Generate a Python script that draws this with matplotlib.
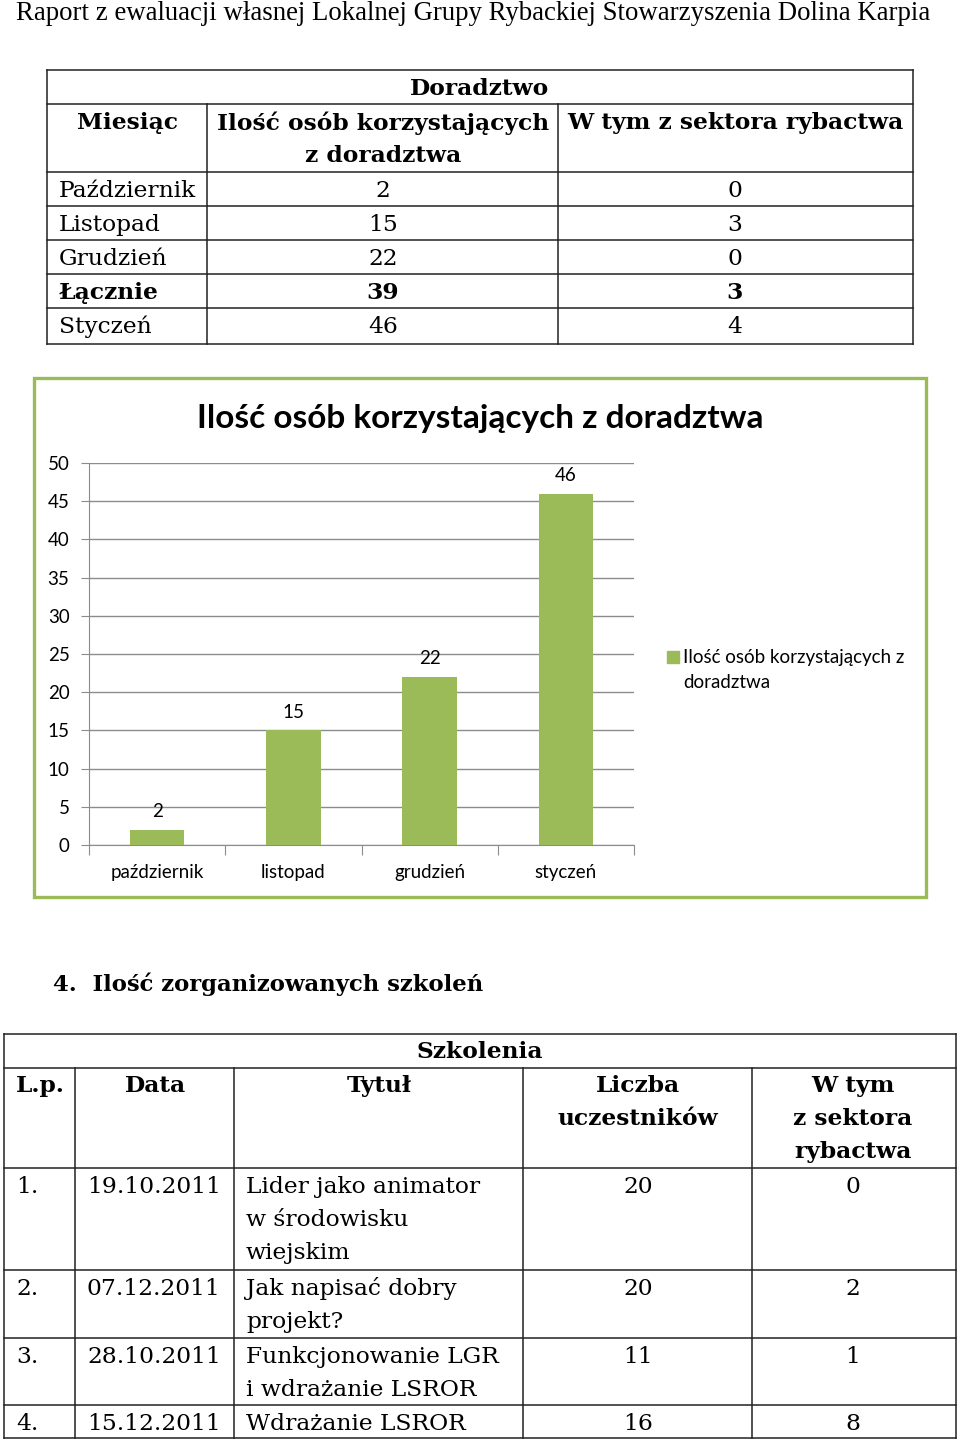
import matplotlib.pyplot as plt
from matplotlib.patches import Rectangle
from matplotlib.lines import Line2D

# --- data ---
page_header = 'Raport z ewaluacji własnej Lokalnej Grupy Rybackiej Stowarzyszenia Dolina Karpia'

advice_months = ['Październik', 'Listopad', 'Grudzień', 'Łącznie', 'Styczeń']
advice_total = [2, 15, 22, 39, 46]
advice_fishery = [0, 3, 0, 3, 4]

chart_title = 'Ilość osób korzystających z doradztwa'
chart_months = ['październik', 'listopad', 'grudzień', 'styczeń']
chart_values = [2, 15, 22, 46]

section_heading = '4.  Ilość zorganizowanych szkoleń'
training_no = ['1.', '2.', '3.', '4.']
training_dates = ['19.10.2011', '07.12.2011', '28.10.2011', '15.12.2011']
training_titles = ['Lider jako animator\nw środowisku\nwiejskim',
                   'Jak napisać dobry\nprojekt?',
                   'Funkcjonowanie LGR\ni wdrażanie LSROR',
                   'Wdrażanie LSROR']
training_people = [20, 20, 11, 16]
training_fishery = [0, 2, 1, 8]

GREEN = '#9BBB59'
SERIF = 'DejaVu Serif'
SANS = 'Lato'
TS = 16.8   # table font size
CS = 13.5   # chart font size

W, H = 960, 1440
fig = plt.figure(figsize=(9.6, 14.4), dpi=100)


def fx(x):
    return x / W


def fy(y):
    return 1 - y / H


def txt(x, y, s, size=TS, bold=False, ha='left', family=SERIF, dy=2):
    # dy nudges text down a little to line up with the page baseline
    fig.text(fx(x), fy(y + dy), s, fontsize=size, fontweight='bold' if bold else 'normal',
             ha=ha, va='center', family=family, color='black')


def line(x0, y0, x1, y1, lw=1.1, color='#222222'):
    fig.add_artist(Line2D([fx(x0), fx(x1)], [fy(y0), fy(y1)], lw=lw, color=color))


# page header
txt(16, 13, page_header, size=19.3, family='Liberation Serif', dy=1)

# --- table 1: Doradztwo ---
cols1 = [47, 207, 558, 913]
rows1 = [70, 104, 172, 206, 240, 274, 308, 344]
for y in rows1:
    line(cols1[0], y, cols1[-1], y)
line(cols1[0], rows1[0], cols1[0], rows1[-1])
line(cols1[-1], rows1[0], cols1[-1], rows1[-1])
for x in cols1[1:-1]:
    line(x, rows1[1], x, rows1[-1])

txt(480, 87, 'Doradztwo', bold=True, ha='center')
txt(127, 121, 'Miesiąc', bold=True, ha='center')
txt(383, 121, 'Ilość osób korzystających', bold=True, ha='center')
txt(383, 154, 'z doradztwa', bold=True, ha='center')
txt(735, 121, 'W tym z sektora rybactwa', bold=True, ha='center')
for i, m in enumerate(advice_months):
    y = 189 + i * 34
    b = m == 'Łącznie'
    txt(59, y, m, bold=b)
    txt(383, y, str(advice_total[i]), bold=b, ha='center')
    txt(735, y, str(advice_fishery[i]), bold=b, ha='center')

# --- chart ---
fig.add_artist(Rectangle((fx(34), fy(897)), fx(926) - fx(34), fy(378) - fy(897),
                         transform=fig.transFigure, fill=False, edgecolor=GREEN, lw=2.4))
fig.text(fx(480), fy(418), chart_title, fontsize=24, fontweight='bold', family=SANS,
         ha='center', va='center')

ax = fig.add_axes([fx(89), fy(845), fx(634) - fx(89), fy(463) - fy(845)])
bars = ax.bar(range(len(chart_values)), chart_values, width=0.4, color=GREEN, zorder=3)
ax.bar_label(bars, padding=7, fontsize=CS, family=SANS)
ax.set_xlim(-0.5, len(chart_values) - 0.5)
ax.set_ylim(0, 50)
ax.set_yticks(range(0, 51, 5))
ax.grid(axis='y', color='#8c8c8c', lw=1.0, zorder=0)
for s in ['top', 'right']:
    ax.spines[s].set_visible(False)
for s in ['left', 'bottom']:
    ax.spines[s].set_color('#8c8c8c')
ax.set_xticks([i - 0.5 for i in range(len(chart_values) + 1)])
ax.set_xticklabels([])
ax.set_xticks(range(len(chart_values)), minor=True)
ax.set_xticklabels(chart_months, minor=True, fontsize=CS, family=SANS)
ax.tick_params(axis='x', which='major', length=7, color='#8c8c8c')
ax.tick_params(axis='x', which='minor', length=0, pad=13.5)
ax.tick_params(axis='y', length=6, color='#8c8c8c', pad=8, labelsize=CS)
for lab in ax.get_yticklabels():
    lab.set_family(SANS)

# legend
fig.add_artist(Rectangle((fx(667), fy(663)), fx(679) - fx(667), fy(651) - fy(663),
                         transform=fig.transFigure, color=GREEN))
txt(683, 656, 'Ilość osób korzystających z', size=CS, family=SANS, dy=1)
txt(683, 681, 'doradztwa', size=CS, family=SANS, dy=1)

# --- section heading ---
txt(53, 982, section_heading, size=16.4, bold=True)

# --- table 2: Szkolenia ---
cols2 = [4, 75, 234, 523, 752, 956]
rows2 = [1034, 1068, 1168, 1270, 1338, 1405, 1438]
for y in rows2:
    line(cols2[0], y, cols2[-1], y)
line(cols2[0], rows2[0], cols2[0], rows2[-1])
line(cols2[-1], rows2[0], cols2[-1], rows2[-1])
for x in cols2[1:-1]:
    line(x, rows2[1], x, rows2[-1])

txt(480, 1050, 'Szkolenia', bold=True, ha='center')
txt(16, 1084, 'L.p.', bold=True)
txt(155, 1084, 'Data', bold=True, ha='center')
txt(379, 1084, 'Tytuł', bold=True, ha='center')
txt(638, 1084, 'Liczba', bold=True, ha='center')
txt(638, 1117, 'uczestników', bold=True, ha='center')
txt(853, 1084, 'W tym', bold=True, ha='center')
txt(853, 1117, 'z sektora', bold=True, ha='center')
txt(853, 1150, 'rybactwa', bold=True, ha='center')

for i in range(len(training_no)):
    y = rows2[2 + i] + 17
    txt(16, y, training_no[i])
    txt(87, y, training_dates[i])
    for k, part in enumerate(training_titles[i].split('\n')):
        txt(246, y + k * 33, part)
    txt(638, y, str(training_people[i]), ha='center')
    txt(853, y, str(training_fishery[i]), ha='center')

fig.savefig('out.png', dpi=100)
